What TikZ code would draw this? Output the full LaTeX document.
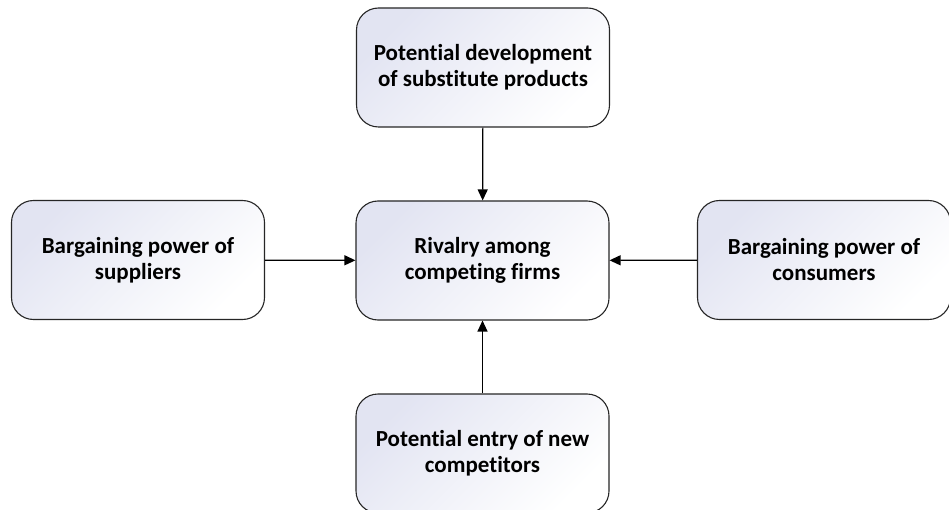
\documentclass[tikz,border=0pt]{standalone}
\usepackage{fontspec}
\setmainfont{Carlito}[Ligatures=NoCommon]
\usetikzlibrary{arrows.meta}
\definecolor{boxtint}{RGB}{226,228,242}
\begin{document}
\begin{tikzpicture}[x=1pt,y=-1pt,
  force/.style={draw=black!85, line width=1.1pt, rounded corners=22pt,
    top color=boxtint, bottom color=white, shading angle=45,
    minimum width=253pt, minimum height=119pt, align=center,
    font=\bfseries\fontsize{23}{26}\selectfont, inner sep=0pt},
  link/.style={line width=1.2pt, -{Triangle[length=11pt,width=10pt]}}]
  \useasboundingbox (0,0) rectangle (949,510);
  \node[force] (subst) at (483,67.5) {Potential development\\of substitute products};
  \node[force] (supp) at (138,260) {Bargaining power of\\suppliers};
  \node[force] (rival) at (482.5,260.5) {Rivalry among\\competing firms};
  \node[force] (cons) at (824,260) {Bargaining power of\\consumers};
  \node[force] (entry) at (482.5,453.5) {Potential entry of new\\competitors};
  \draw[link] (subst) -- (rival);
  \draw[link] (supp) -- (rival);
  \draw[link] (cons) -- (rival);
  \draw[link] (entry) -- (rival);
\end{tikzpicture}
\end{document}
